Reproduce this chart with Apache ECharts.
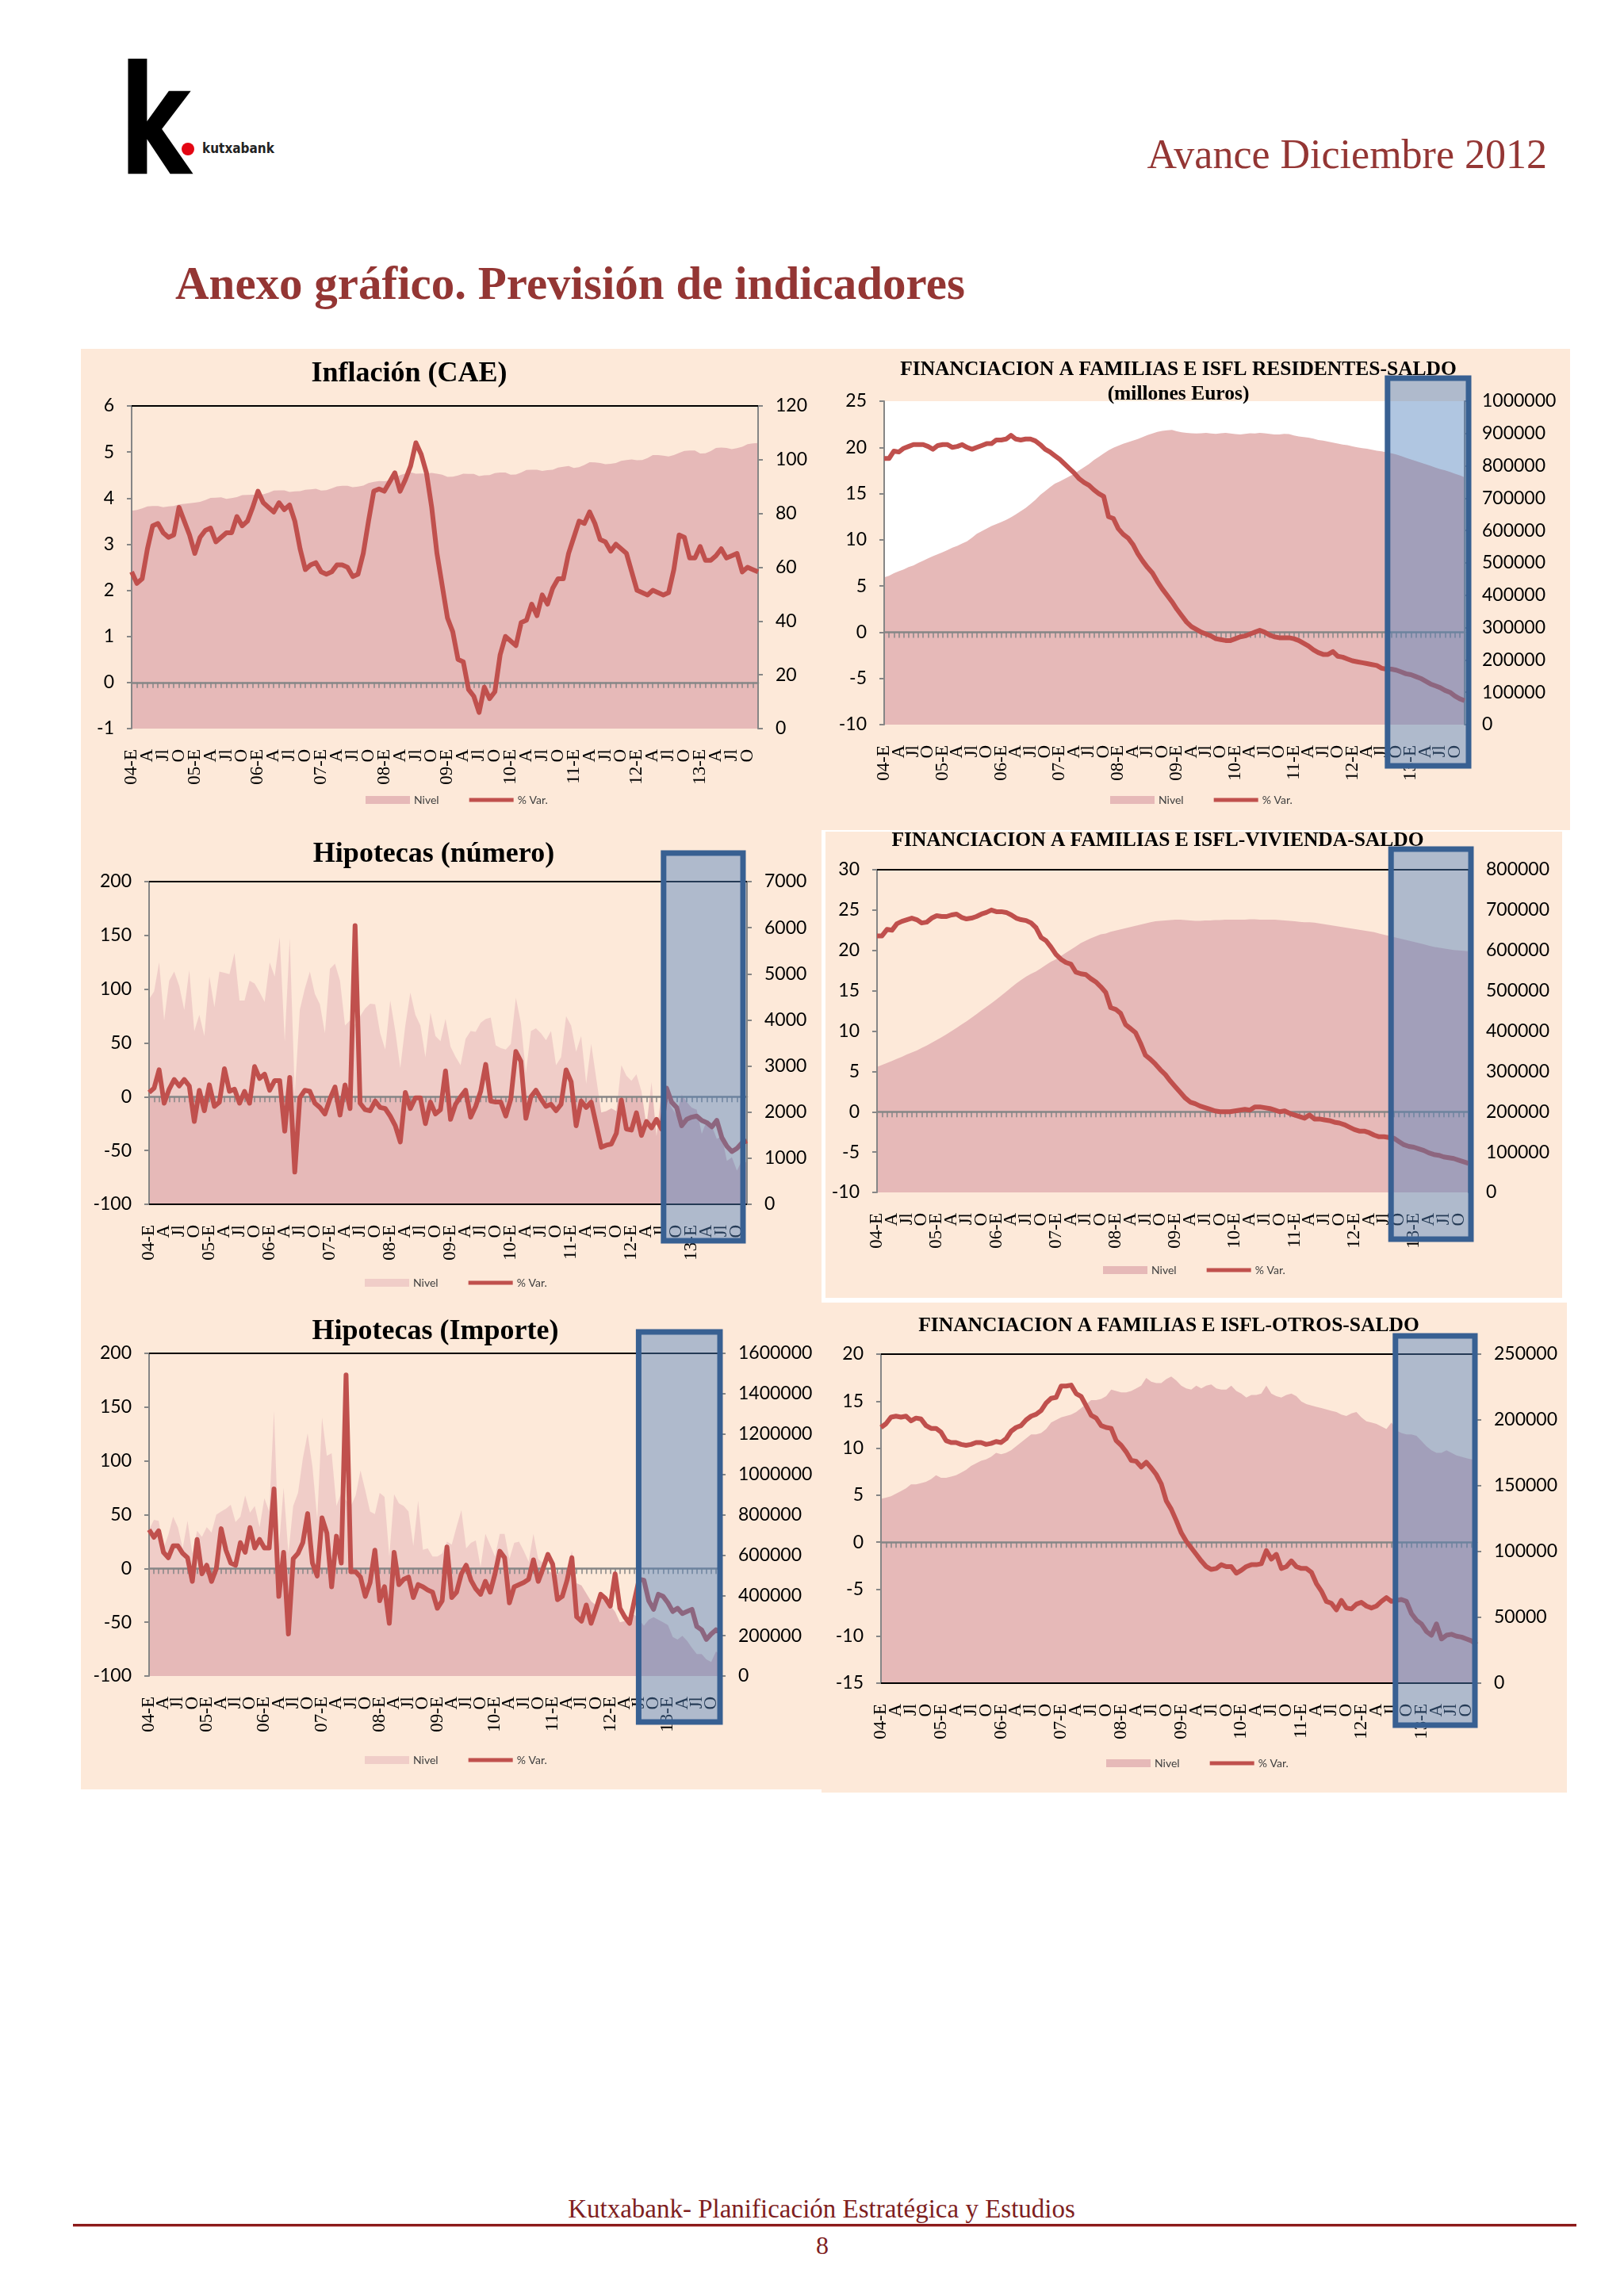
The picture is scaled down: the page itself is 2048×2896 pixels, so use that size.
<!DOCTYPE html>
<html><head><meta charset="utf-8">
<script src="https://cdn.jsdelivr.net/npm/echarts@6/dist/echarts.min.js"></script>
<style>
html,body{margin:0;padding:0;background:#fff;}
#page{position:relative;width:2048px;height:2896px;overflow:hidden;background:#fff;}
.panel{position:absolute;background:#FDE9D9;}
#chart{position:absolute;left:0;top:0;width:2048px;height:2896px;}
.t{position:absolute;line-height:1;white-space:nowrap;}
</style></head><body>
<div id="page">
  <div class="panel" style="left:102px;top:440px;width:1878px;height:607px"></div>
  <div class="panel" style="left:102px;top:1047px;width:934px;height:1210px"></div>
  <div class="panel" style="left:1041px;top:1049px;width:929px;height:588px"></div>
  <div class="panel" style="left:1036px;top:1643px;width:940px;height:618px"></div>

  <div class="t" style="left:150px;top:43px;font:bold 190px 'DejaVu Sans';transform:scaleX(0.72);transform-origin:left top;color:#000">k</div>
  <div style="position:absolute;left:229px;top:180px;width:16px;height:16px;border-radius:50%;background:#E30613"></div>
  <div class="t" style="left:255px;top:176px;font:bold 18px 'DejaVu Sans';color:#222;transform:scaleX(0.85);transform-origin:left top">kutxabank</div>

  <div class="t" style="right:97px;top:165px;font:52px 'Liberation Serif';color:#943634">Avance Diciembre 2012</div>
  <div class="t" style="left:221px;top:323px;font:bold 59px 'Liberation Serif';color:#943634">Anexo gráfico. Previsión de indicadores</div>

  <div class="t" style="left:536px;width:1000px;text-align:center;top:2768px;font:33px 'Liberation Serif';color:#7F1F1F">Kutxabank- Planificación Estratégica y Estudios</div>
  <div style="position:absolute;left:92px;top:2805px;width:1896px;height:3px;background:#8B1A1A"></div>
  <div style="position:absolute;left:92px;top:2808px;width:1896px;height:1px;background:#E0A8A8"></div>
  <div class="t" style="left:1017px;width:40px;text-align:center;top:2814px;font:32px 'Liberation Serif';color:#7F1F1F">8</div>

  <div id="chart"></div>
</div>
<script>
// ---------- categories / tick labels ----------
const years = ['04','05','06','07','08','09','10','11','12','13'];
const tickLabels = ['04-E','A','Jl','O','05-E','A','Jl','O','06-E','A','Jl','O','07-E','A','Jl','O',
  '08-E','A','Jl','O','09-E','A','Jl','O','10-E','A','Jl','O','11-E','A','Jl','O',
  '12-E','A','Jl','O','13-E','A','Jl','O'];
const categories = [];
years.forEach(y => { for (let m = 1; m <= 12; m++) categories.push('20' + y + '-' + (m < 10 ? '0' + m : m)); });

// ---------- Inflación (CAE) ----------
const inflVar = [2.4,2.15,2.25,2.9,3.4,3.45,3.25,3.15,3.2,3.8,3.5,3.2,
 2.8,3.15,3.3,3.35,3.05,3.15,3.25,3.25,3.6,3.4,3.5,3.8,
 4.15,3.9,3.8,3.7,3.9,3.75,3.85,3.5,2.9,2.45,2.55,2.6,
 2.4,2.35,2.4,2.55,2.55,2.5,2.3,2.35,2.8,3.5,4.15,4.2,
 4.15,4.35,4.55,4.15,4.4,4.7,5.2,4.95,4.55,3.8,2.8,2.1,
 1.4,1.1,0.5,0.45,-0.15,-0.3,-0.65,-0.1,-0.35,-0.2,0.6,1.0,
 0.9,0.8,1.3,1.35,1.7,1.45,1.9,1.7,2.05,2.25,2.25,2.8,
 3.15,3.5,3.45,3.7,3.45,3.1,3.05,2.85,3.0,2.9,2.8,2.4,
 2.0,1.95,1.9,2.0,1.95,1.9,1.95,2.45,3.2,3.15,2.7,2.7,
 2.95,2.65,2.65,2.75,2.9,2.7,2.75,2.8,2.4,2.5,2.45,2.4];
const inflNivel = [81.0,81.3,81.9,82.6,82.8,82.8,82.3,82.6,82.8,83.4,83.6,83.8,
 84.0,84.3,85.0,85.8,85.9,86.0,85.4,85.7,86.1,86.8,86.9,87.0,
 86.9,87.1,87.7,88.5,88.6,88.6,88.0,88.2,88.3,88.8,89.0,89.2,
 88.5,88.7,89.3,90.1,90.3,90.3,89.8,90.0,90.4,91.3,91.8,92.1,
 92.0,92.3,93.2,94.3,94.9,95.3,94.8,94.9,94.9,95.1,94.8,94.4,
 93.6,93.7,94.1,94.8,94.7,94.7,93.9,94.2,94.3,95.0,95.2,95.2,
 94.4,94.5,95.2,96.2,96.3,96.3,95.8,96.1,96.3,97.1,97.4,97.7,
 96.9,97.2,98.0,99.1,99.0,98.8,98.3,98.5,98.8,99.6,99.9,100.1,
 99.8,99.9,100.6,101.7,101.7,101.5,101.2,101.7,102.5,103.3,103.4,103.4,
 102.3,102.4,103.2,104.4,104.5,104.4,103.9,104.3,104.8,105.8,106.1,106.2];

// ---------- Financiación residentes (saldo, miles) ----------
const resVar = [18.8,18.8,19.6,19.5,19.9,20.1,20.3,20.3,20.3,20.1,19.8,20.2,
 20.3,20.3,20.0,20.1,20.3,20.0,19.8,20.0,20.2,20.4,20.4,20.8,
 20.8,20.9,21.3,20.9,20.8,20.9,20.9,20.7,20.3,19.8,19.5,19.1,
 18.7,18.2,17.7,17.2,16.6,16.2,15.9,15.4,15.0,14.7,12.5,12.3,
 11.2,10.6,10.2,9.5,8.5,7.7,7.0,6.4,5.5,4.7,4.0,3.3,
 2.5,1.8,1.1,0.6,0.3,0.0,-0.2,-0.4,-0.7,-0.8,-0.9,-0.9,
 -0.7,-0.5,-0.4,-0.2,0.0,0.2,0.0,-0.3,-0.5,-0.6,-0.6,-0.6,
 -0.7,-0.9,-1.2,-1.5,-1.9,-2.2,-2.4,-2.4,-2.1,-2.6,-2.7,-2.9,
 -3.1,-3.2,-3.3,-3.4,-3.5,-3.6,-3.9,-4.0,-4.0,-4.1,-4.3,-4.5,
 -4.6,-4.8,-5.0,-5.3,-5.6,-5.8,-6.0,-6.3,-6.5,-6.9,-7.2,-7.4];
const resNivelK = [455,460,468,474,480,487,492,500,507,514,521,527,
 533,540,547,553,560,567,578,590,598,606,614,620,
 626,633,641,650,660,670,682,695,710,722,734,745,
 752,760,768,776,786,796,806,818,828,838,848,856,
 862,868,873,878,883,889,895,900,905,908,910,911,
 907,904,902,901,900,901,902,900,899,901,902,900,
 898,897,899,901,900,902,901,899,897,897,899,898,
 894,891,889,887,884,880,878,875,872,869,866,864,
 860,857,855,853,850,847,845,842,839,835,830,825,
 820,815,810,805,800,795,790,786,781,776,771,765];

// ---------- Hipotecas (número) ----------
const hipNumVar = [4,8,25,-6,7,16,10,16,10,-23,6,-13,
 11,-9,-5,26,5,7,-6,5,-6,28,17,21,
 6,15,15,-32,18,-70,-1,6,5,-6,-10,-16,
 -2,9,-17,11,-11,159,-6,-12,-13,-4,-10,-11,
 -18,-27,-42,4,-11,-1,-1,-25,-5,-16,-12,24,
 -21,-7,0,6,-19,-9,5,30,-4,-5,-5,-18,
 -2,42,33,-20,0,6,-2,-9,-7,-13,-7,25,
 14,-27,-4,-10,-5,-26,-47,-45,-44,-34,-3,-30,
 -31,-15,-36,-23,-29,-21,-30,8,-5,-10,-27,-21,
 -19,-18,-22,-24,-28,-22,-38,-46,-51,-48,-43,-41];
const hipNumNivel = [4450,4620,5250,3990,4850,5050,4740,4220,5080,3760,4110,3650,
 4940,4280,5050,5020,4990,5450,4420,4420,4850,4790,4600,4390,
 5250,4940,5790,3540,5770,2400,4220,4680,5050,4560,4340,3710,
 5110,5220,4850,3880,3990,3900,4080,4250,4350,4340,3710,3360,
 4420,3760,2960,3880,4590,4110,3880,3190,4160,3650,3540,4020,
 3420,3200,3020,3590,3760,3740,3940,4020,4050,3450,3390,3360,
 3480,4480,3940,2850,3760,3820,3710,3560,3760,3020,3190,4080,
 3880,3310,3650,2620,3480,2730,1990,2020,2080,2020,3020,2790,
 2680,2820,2450,1700,2650,1480,2450,2330,2100,1930,2390,2220,
 2100,2050,1530,1820,1700,1420,1480,940,1020,730,960,900];

// ---------- Financiación vivienda (saldo, miles) ----------
const vivVar = [21.8,21.8,22.6,22.5,23.3,23.6,23.8,24.0,23.8,23.4,23.5,24.0,
 24.3,24.2,24.2,24.4,24.5,24.1,23.9,24.0,24.2,24.5,24.7,25.0,
 24.8,24.8,24.7,24.4,24.0,23.8,23.7,23.4,22.8,21.6,21.2,20.4,
 19.5,18.9,18.5,18.3,17.3,17.1,17.0,16.5,16.1,15.5,14.8,12.9,
 12.7,12.2,10.8,10.3,9.8,8.5,7.0,6.5,5.9,5.2,4.6,3.8,
 3.1,2.4,1.7,1.2,1.0,0.7,0.5,0.3,0.1,0.0,0.0,0.0,
 0.1,0.2,0.3,0.2,0.6,0.6,0.5,0.4,0.2,0.0,0.1,-0.2,
 -0.4,-0.6,-0.8,-0.4,-0.9,-0.9,-1.0,-1.1,-1.3,-1.4,-1.6,-1.9,
 -2.2,-2.4,-2.4,-2.6,-2.9,-3.1,-3.1,-3.2,-3.3,-3.7,-4.1,-4.3,
 -4.4,-4.6,-4.8,-5.1,-5.3,-5.4,-5.6,-5.7,-5.8,-6.0,-6.2,-6.4];
const vivNivelK = [311,316,321,326,331,336,342,347,352,358,364,371,
 378,385,392,400,408,416,424,433,442,451,460,469,
 478,488,498,508,518,527,535,542,548,556,564,572,
 578,586,594,602,610,618,624,630,635,640,642,646,
 649,652,655,658,661,664,667,670,672,673,674,675,
 676,676,675,674,673,673,674,674,675,675,676,676,
 676,676,676,677,677,676,676,676,676,675,674,673,
 672,671,670,670,669,667,665,663,661,659,657,655,
 653,651,649,647,645,642,639,636,633,630,627,624,
 621,618,615,612,609,607,605,603,601,600,599,598];

// ---------- Hipotecas (importe, miles) ----------
const hipImpVar = [36,29,35,15,10,21,21,14,10,-12,27,-5,
 3,-12,0,37,17,5,3,24,15,38,19,27,
 19,19,74,-26,15,-61,9,14,24,51,5,-7,
 47,33,-17,30,5,180,-3,-3,-8,-26,-13,17,
 -30,-17,-51,15,-15,-10,-8,-27,-15,-17,-20,-22,
 -37,-30,20,-27,-22,-5,3,-11,-19,-24,-12,-22,
 -5,16,10,-32,-17,-15,-13,-10,8,-12,0,13,
 4,-29,-26,-11,10,-45,-49,-34,-51,-38,-24,-28,
 -35,-5,-37,-45,-51,-30,-10,-11,-30,-38,-24,-26,
 -32,-40,-37,-42,-40,-38,-54,-57,-66,-61,-57,-59];
const hipImpNivelK = [725,774,770,633,700,790,738,633,770,607,720,690,
 738,712,800,816,829,849,764,790,895,810,843,738,
 882,816,1314,633,934,607,843,908,1078,1203,1039,777,
 1282,1092,1105,843,908,870,843,895,1019,921,816,803,
 908,888,593,901,856,843,816,646,869,626,633,593,
 593,607,666,652,740,823,633,660,672,541,705,650,
 593,705,705,580,660,666,620,567,705,580,560,521,
 510,502,541,521,620,460,449,410,371,351,384,371,
 351,318,266,272,290,305,279,250,279,292,279,266,
 253,194,181,200,174,140,109,109,83,70,122,102];

// ---------- Financiación otros (saldo, miles) ----------
const otrVar = [12.2,12.6,13.3,13.4,13.3,13.4,12.9,13.2,13.1,12.4,12.1,12.1,
 11.7,10.8,10.6,10.6,10.4,10.3,10.4,10.6,10.6,10.4,10.5,10.7,
 10.6,11.0,11.8,12.2,12.4,13.0,13.4,13.6,14.0,14.8,15.3,15.4,
 16.6,16.6,16.7,15.8,15.5,14.5,13.5,13.2,12.4,12.2,12.1,10.8,
 10.3,9.6,8.7,8.6,8.0,8.5,7.9,7.2,6.2,4.4,3.5,2.3,
 1.0,0.1,-0.6,-1.3,-2.0,-2.6,-2.9,-2.8,-2.4,-2.6,-2.6,-3.3,
 -3.0,-2.6,-2.4,-2.4,-2.3,-0.9,-1.8,-1.3,-2.8,-2.6,-2.0,-2.6,
 -2.8,-2.8,-3.2,-4.4,-5.2,-6.3,-6.5,-7.2,-6.2,-7.0,-7.1,-6.6,
 -6.4,-6.8,-7.0,-6.8,-6.3,-5.9,-6.3,-6.2,-6.1,-6.3,-7.6,-8.3,
 -8.7,-9.5,-9.9,-8.7,-10.3,-9.9,-9.8,-10.0,-10.1,-10.3,-10.5,-10.9];
const otrNivelK = [140,141,142,144,146,148,151,151,152,153,155,158,
 156,156,157,158,160,162,165,167,169,170,172,175,
 174,175,177,180,183,186,189,189,190,193,198,200,
 202,203,204,206,209,212,215,215,216,218,223,222,
 221,221,222,224,226,232,229,228,228,231,233,230,
 226,224,223,226,224,226,227,224,223,223,226,222,
 220,217,219,219,220,226,220,218,217,219,220,218,
 214,212,211,210,209,208,207,206,204,203,205,206,
 202,199,198,197,195,193,198,192,190,189,189,188,
 184,180,177,175,175,177,175,173,172,171,170,170];

// ---------- styles ----------
const GRAY = '#868686', RED = '#C0504D', AREA = '#E6B9B8', AREA_LIGHT = '#F0CDC8';
const K = v => v * 1000;

const charts = [
  { title: ['Inflación (CAE)'], titleX: 516, titleY: [472], titleSize: 36,
    grid: { left: 166, top: 512, width: 790, height: 407 },
    left: { min: -1, max: 6, interval: 1 }, right: { min: 0, max: 120, interval: 20 },
    nivel: inflNivel, pvar: inflVar, topLine: true, bottomLine: false, white: false, split: false,
    legend: { left: 456, top: 997 }, rect: null },
  { title: ['FINANCIACION A FAMILIAS E ISFL RESIDENTES-SALDO', '(millones Euros)'], titleX: 1486, titleY: [466, 497], titleSize: 25.5,
    grid: { left: 1115, top: 506, width: 732, height: 408 },
    left: { min: -10, max: 25, interval: 5 }, right: { min: 0, max: 1000000, interval: 100000 },
    nivel: resNivelK.map(K), pvar: resVar, topLine: false, bottomLine: false, white: true, split: false,
    legend: { left: 1395, top: 997 }, rect: { start: 103.2, above: 29, below: 52, extra: 5 } },
  { title: ['Hipotecas (número)'], titleX: 547, titleY: [1078], titleSize: 36,
    grid: { left: 188, top: 1112, width: 754, height: 407 },
    left: { min: -100, max: 200, interval: 50 }, right: { min: 0, max: 7000, interval: 1000 },
    nivel: hipNumNivel, pvar: hipNumVar, topLine: true, bottomLine: true, white: false, split: true,
    legend: { left: 455, top: 1606 }, rect: { start: 102.4, above: 36, below: 46, extra: -5 } },
  { title: ['FINANCIACION A FAMILIAS E ISFL-VIVIENDA-SALDO'], titleX: 1460, titleY: [1060], titleSize: 25.5,
    grid: { left: 1106, top: 1097, width: 746, height: 407 },
    left: { min: -10, max: 30, interval: 5 }, right: { min: 0, max: 800000, interval: 100000 },
    nivel: vivNivelK.map(K), pvar: vivVar, topLine: true, bottomLine: false, white: false, split: false,
    legend: { left: 1386, top: 1590 }, rect: { start: 103.4, above: 26, below: 59, extra: 3 } },
  { title: ['Hipotecas (Importe)'], titleX: 549, titleY: [1680], titleSize: 36,
    grid: { left: 188, top: 1707, width: 721, height: 407 },
    left: { min: -100, max: 200, interval: 50 }, right: { min: 0, max: 1600000, interval: 200000 },
    nivel: hipImpNivelK.map(K), pvar: hipImpVar, topLine: true, bottomLine: false, white: false, split: true,
    legend: { left: 455, top: 2208 }, rect: { start: 101.9, above: 27, below: 58, extra: -1 } },
  { title: ['FINANCIACION A FAMILIAS E ISFL-OTROS-SALDO'], titleX: 1474, titleY: [1672], titleSize: 25.5,
    grid: { left: 1111, top: 1708, width: 751, height: 415 },
    left: { min: -15, max: 20, interval: 5 }, right: { min: 0, max: 250000, interval: 50000 },
    nivel: otrNivelK.map(K), pvar: otrVar, topLine: true, bottomLine: true, white: false, split: false,
    legend: { left: 1390, top: 2212 }, rect: { start: 102.8, above: 23, below: 53, extra: -2 } }
];

const LINE_ICON = 'path://M0,0h0.01v0.01h-0.01z M0,2.5h56v5h-56z M55.99,9.99h0.01v0.01h-0.01z';
const catIndex = (v) => categories.indexOf(v);

const option = { animation: false, backgroundColor: 'transparent', textStyle: { fontFamily: 'Lato' },
  grid: [], xAxis: [], yAxis: [], series: [], legend: [], visualMap: [] };

charts.forEach((c, k) => {
  option.grid.push({ left: c.grid.left, top: c.grid.top, width: c.grid.width, height: c.grid.height,
    show: c.white, backgroundColor: '#ffffff', borderWidth: 0 });
  // zero-crossing axis with monthly ticks (drawn between area and line)
  option.xAxis.push({ gridIndex: k, type: 'category', data: categories, boundaryGap: false, position: 'bottom', z: 2,
    axisLine: { show: true, onZero: true, onZeroAxisIndex: 2 * k, lineStyle: { color: GRAY, width: 2.5 } },
    axisTick: { show: true, interval: 0, length: 7, lineStyle: { color: GRAY, width: 1.5 } },
    axisLabel: { show: false }, splitLine: { show: false } });
  // label axis at bottom
  option.xAxis.push({ gridIndex: k, type: 'category', data: categories, boundaryGap: false, position: 'bottom', z: 2,
    axisLine: { show: c.bottomLine, onZero: false, lineStyle: { color: '#000', width: 2 } },
    axisTick: { show: false },
    axisLabel: { show: true, rotate: 90, margin: 26, fontFamily: 'Liberation Serif', fontSize: 23, color: '#000',
      showMinLabel: true, showMaxLabel: true, hideOverlap: false,
      interval: 0,
      formatter: (v) => { const i = catIndex(v); return i % 3 === 0 ? tickLabels[i / 3] : ''; } },
    splitLine: { show: false } });
  // top border axis
  option.xAxis.push({ gridIndex: k, type: 'category', data: categories, boundaryGap: false, position: 'top', z: 2,
    axisLine: { show: c.topLine, onZero: false, lineStyle: { color: '#000', width: 2 } },
    axisTick: { show: false }, axisLabel: { show: false }, splitLine: { show: false } });

  const yBase = (pos, r) => ({ gridIndex: k, type: 'value', position: pos, min: r.min, max: r.max, interval: r.interval, z: 2,
    axisLine: { show: true, lineStyle: { color: GRAY, width: 2 } },
    axisTick: { show: true, length: 6, lineStyle: { color: GRAY, width: 2 } },
    axisLabel: { margin: 22, fontSize: 23, color: '#000', fontFamily: 'Lato', formatter: (v) => String(v) },
    splitLine: { show: false } });
  option.yAxis.push(yBase('left', c.left));
  option.yAxis.push(yBase('right', c.right));

  const nivelIndex = option.series.length;
  option.series.push({ name: 'Nivel', type: 'line', xAxisIndex: 3 * k, yAxisIndex: 2 * k + 1, data: c.nivel,
    symbol: 'none', silent: true, z: 1, lineStyle: { width: 0 },
    itemStyle: { color: AREA },
    areaStyle: c.split ? { opacity: 1, origin: 'start' } : { opacity: 1, origin: 'start', color: AREA } });
  option.series.push({ name: '% Var.', type: 'line', xAxisIndex: 3 * k, yAxisIndex: 2 * k, data: c.pvar,
    symbol: 'none', silent: true, z: 3, lineStyle: { width: 6, color: RED, join: 'round' }, itemStyle: { color: RED } });

  if (c.split) {
    const thr = c.right.min + (0 - c.left.min) / (c.left.max - c.left.min) * (c.right.max - c.right.min);
    option.visualMap.push({ type: 'piecewise', show: false, seriesIndex: nivelIndex, dimension: 1,
      pieces: [{ gte: c.right.min - 1, lt: thr, color: AREA }, { gte: thr, lte: c.right.max * 2, color: AREA_LIGHT }],
      outOfRange: { color: AREA } });
  }

  option.legend.push({ left: c.legend.left, top: c.legend.top, orient: 'horizontal', itemWidth: 56, itemHeight: 10,
    itemGap: 38, selectedMode: false, textStyle: { fontSize: 14, color: '#404040', fontFamily: 'Lato' },
    data: [{ name: 'Nivel', icon: 'rect', itemStyle: { color: c.split ? AREA_LIGHT : AREA } },
           { name: '% Var.', icon: LINE_ICON, itemStyle: { color: RED } }] });
});

const chart = echarts.init(document.getElementById('chart'), null, { renderer: 'canvas' });
chart.setOption(option);

const graphics = [];
charts.forEach((c, k) => {
  c.title.forEach((t, j) => {
    graphics.push({ type: 'text', x: c.titleX, y: c.titleY[j], z: 50,
      style: { text: t, fontFamily: 'Liberation Serif', fontWeight: 'bold', fontSize: c.titleSize,
        fill: '#000', align: 'center', verticalAlign: 'middle' } });
  });
  if (c.rect) {
    const px = (i) => {
      const a = Math.floor(i), b = Math.min(a + 1, categories.length - 1);
      const pa = chart.convertToPixel({ xAxisIndex: 3 * k }, a);
      const pb = chart.convertToPixel({ xAxisIndex: 3 * k }, b);
      return pa + (pb - pa) * (i - a);
    };
    const x0 = px(c.rect.start);
    const x1 = px(categories.length - 1) + c.rect.extra;
    const yTop = chart.convertToPixel({ yAxisIndex: 2 * k }, c.left.max) - c.rect.above;
    const yBot = chart.convertToPixel({ yAxisIndex: 2 * k }, c.left.min) + c.rect.below;
    graphics.push({ type: 'rect', z: 100, shape: { x: x0, y: yTop, width: x1 - x0, height: yBot - yTop },
      style: { fill: 'rgba(79,129,189,0.45)', stroke: '#386092', lineWidth: 7 } });
  }
});
chart.setOption({ graphic: graphics });
</script>
</body></html>
